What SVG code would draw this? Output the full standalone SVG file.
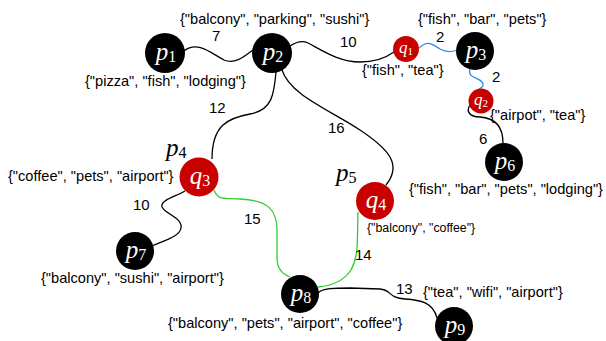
<svg xmlns="http://www.w3.org/2000/svg" width="606" height="341" viewBox="0 0 606 341">
<style>
.b{fill:#000}
.r{fill:#c80000}
.e{fill:none;stroke:#000;stroke-width:1.3}
.bl{stroke:#2f8fef}
.gr{stroke:#33cc33}
.nl{font-family:"Liberation Serif",serif;font-style:italic;font-size:25px;fill:#fff;text-anchor:middle}
.sm{font-size:17px}
.sub{font-style:normal;font-size:16px}
.sm .sub{font-size:11px}
.ol{fill:#000;text-anchor:start}
.t{font-family:"Liberation Sans",Arial,sans-serif;font-size:14.6px;fill:#000}
.w{font-family:"Liberation Sans",Arial,sans-serif;font-size:15px;fill:#000}
</style>
<rect width="606" height="341" fill="#fff"/>
<g id="connectors">
<path class="e" d="M184,51 C198,40 212,54 224,60 C236,65 246,55 253,50"/>
<path class="e" d="M290,46 C296,42 302,40 308,43 C325,52 340,62 360,62 C375,62 387,57 394,52"/>
<path class="e bl" d="M419,48 C428,40 432,44 440,49 C447,53 452,52 457,50"/>
<path class="e bl" d="M470,69 C467,78 478,77 482,82 C485,86 481,88 479,89"/>
<path class="e" d="M470,105 C466,111 469,117 480,117 C495,118 503,126 503,143"/>
<path class="e" d="M276,72 C274,95 272,110 250,114 C228,118 212,125 212,159"/>
<path class="e" d="M282,70 C290,95 330,110 360,130 C390,150 402,165 386,185"/>
<path class="e" d="M185,191 C175,197 160,200 162,207 C165,214 183,218 181,228 C180,236 166,240 152,246"/>
<path class="e gr" d="M214,190 C218,200 222,198 240,199 C268,200 277,210 277,230 L277,258 C277,268 282,274 290,277"/>
<path class="e gr" d="M358,212 C357,240 359,256 351,270 C343,282 330,286 318,287"/>
<path class="e" d="M318,293 C322,288 335,288 350,288 L380,289 C392,290 388,298 405,299 C420,300 433,302 437,318"/>
</g>
<g id="p1"><circle class="b" cx="165" cy="53" r="20"/><text class="nl" x="166" y="60">p<tspan class="sub" dy="2">1</tspan></text></g>
<g id="p2"><circle class="b" cx="272" cy="53" r="20"/><text class="nl" x="273" y="60">p<tspan class="sub" dy="2">2</tspan></text></g>
<g id="q1"><circle class="r" cx="406" cy="49" r="13"/><text class="nl sm" x="406" y="53">q<tspan class="sub" dy="2">1</tspan></text></g>
<g id="p3"><circle class="b" cx="475" cy="51" r="19"/><text class="nl" x="476" y="58">p<tspan class="sub" dy="2">3</tspan></text></g>
<g id="q2"><circle class="r" cx="481" cy="101" r="12.5"/><text class="nl sm" x="481" y="105">q<tspan class="sub" dy="2">2</tspan></text></g>
<g id="p6"><circle class="b" cx="504" cy="162" r="19"/><text class="nl" x="505" y="169">p<tspan class="sub" dy="2">6</tspan></text></g>
<g id="q3"><circle class="r" cx="199" cy="177" r="19.5"/><text class="nl" x="200" y="184">q<tspan class="sub" dy="2">3</tspan></text><text class="nl ol" x="166" y="156">p<tspan class="sub" dy="2">4</tspan></text></g>
<g id="q4"><circle class="r" cx="375" cy="201" r="19"/><text class="nl" x="376" y="208">q<tspan class="sub" dy="2">4</tspan></text><text class="nl ol" x="336" y="181">p<tspan class="sub" dy="2">5</tspan></text></g>
<g id="p7"><circle class="b" cx="135" cy="251" r="19"/><text class="nl" x="136" y="258">p<tspan class="sub" dy="2">7</tspan></text></g>
<g id="p8"><circle class="b" cx="300" cy="294" r="19"/><text class="nl" x="301" y="301">p<tspan class="sub" dy="2">8</tspan></text></g>
<g id="p9"><circle class="b" cx="454" cy="326" r="19"/><text class="nl" x="455" y="333">p<tspan class="sub" dy="2">9</tspan></text></g>
<g id="labels">
<text class="t" x="180" y="24">{"balcony", "parking", "sushi"}</text>
<text class="t" x="85" y="86">{"pizza", "fish", "lodging"}</text>
<text class="t" x="418" y="24">{"fish", "bar", "pets"}</text>
<text class="t" x="362" y="75">{"fish", "tea"}</text>
<text class="t" x="490" y="120">{"airpot", "tea"}</text>
<text class="t" x="8" y="181">{"coffee", "pets", "airport"}</text>
<text class="t" x="409" y="194">{"fish", "bar", "pets", "lodging"}</text>
<text class="t" x="367" y="232" style="font-size:12.3px">{"balcony", "coffee"}</text>
<text class="t" x="41" y="283">{"balcony", "sushi", "airport"}</text>
<text class="t" x="423" y="297">{"tea", "wifi", "airport"}</text>
<text class="t" x="168" y="328">{"balcony", "pets", "airport", "coffee"}</text>
<text class="w" x="212" y="41">7</text>
<text class="w" x="340" y="47">10</text>
<text class="w" x="436" y="42">2</text>
<text class="w" x="492" y="82">2</text>
<text class="w" x="209" y="113">12</text>
<text class="w" x="328" y="133">16</text>
<text class="w" x="479" y="144">6</text>
<text class="w" x="133" y="210">10</text>
<text class="w" x="244" y="224">15</text>
<text class="w" x="355" y="260">14</text>
<text class="w" x="396" y="294">13</text>
</g>
</svg>
